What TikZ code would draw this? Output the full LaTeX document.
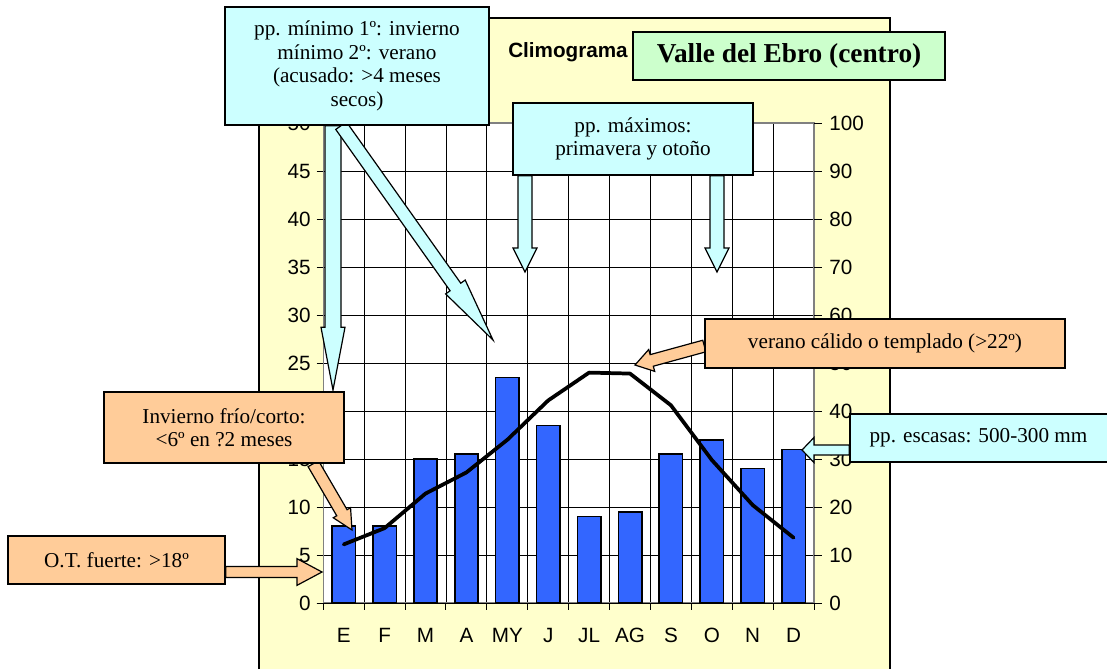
\documentclass[tikz,border=0pt]{standalone}
\usepackage{fontspec}
\setmainfont{Liberation Serif}
\setsansfont{Liberation Sans}
\usetikzlibrary{calc}
\definecolor{panelyellow}{RGB}{255,255,204}
\definecolor{boxcyan}{RGB}{204,255,255}
\definecolor{boxorange}{RGB}{255,204,153}
\definecolor{boxgreen}{RGB}{204,255,204}
\definecolor{barblue}{RGB}{51,102,255}
\definecolor{framegrey}{RGB}{128,128,128}
\newcommand\boxfont{\fontsize{15.9}{17.6}\selectfont}
\newcommand\axisfont{\sffamily\fontsize{15.5}{18}\selectfont}
% block arrow: style, start, tip, shaft half width, head half width, head length
\newcommand\blockarrow[6]{%
  \draw[#1] ($(#2)!#4!90:(#3)$) -- ($(#3)!#6!(#2)!#4!90:(#3)$) -- ($(#3)!#6!(#2)!#5!90:(#3)$)
    -- (#3) -- ($(#3)!#6!(#2)!#5!-90:(#3)$) -- ($(#3)!#6!(#2)!#4!-90:(#3)$) -- ($(#2)!#4!-90:(#3)$) -- cycle;}
\pgfdeclarelayer{chart}
\pgfdeclarelayer{pointers}
\pgfsetlayers{chart,pointers,main}

\begin{document}
\begin{tikzpicture}[x=0.75pt,y=0.75pt,yscale=-1,xscale=1,
  callout/.style={draw=black, line width=1pt, align=center, inner sep=0pt, font=\boxfont},
  cyanbox/.style={callout, fill=boxcyan},
  orangebox/.style={callout, fill=boxorange},
  cyanarrow/.style={draw=black, line width=0.9pt, fill=boxcyan, line join=miter},
  orangearrow/.style={draw=black, line width=0.9pt, fill=boxorange, line join=miter},
  gridline/.style={black, line width=0.6pt},
  axisline/.style={black, line width=0.7pt},
  axislabel/.style={font=\axisfont, inner sep=0pt},
  bar/.style={draw=black, line width=1.2pt, fill=barblue},
  templine/.style={black, line width=2.8pt, line join=round, line cap=round}]
\useasboundingbox (0,0) rectangle (1107,669);

\begin{pgfonlayer}{chart}
\fill[white] (0,0) rectangle (1107,669);
%Shape: Rectangle [panel]
\fill[panelyellow] (259,18) rectangle (890,669);
\draw[line width=0.8pt] (259,669) -- (259,18) -- (890,18) -- (890,669);
%Shape: Rectangle [plot area]
\fill[white] (323.2,123) rectangle (814,603);
%Straight Lines [grid]
\foreach \k in {1,...,11} \draw[gridline] ({323.2+40.9*\k},123) -- ({323.2+40.9*\k},603);
\foreach \j in {1,...,9} \draw[gridline] (323.2,{603-48*\j}) -- (814,{603-48*\j});
\draw[framegrey, line width=1pt] (323.2,123) rectangle (814,603);
%Axes and ticks
\foreach \v [count=\j from 0] in {0,5,...,50} {
  \draw[axisline] (316.5,{603-48*\j}) -- (323.2,{603-48*\j});
  \node[axislabel, anchor=east] (tl\j) at (311,{603-48*\j}) {\v};
}
\foreach \v [count=\j from 0] in {0,10,...,100} {
  \draw[axisline] (814,{603-48*\j}) -- (821.5,{603-48*\j});
  \node[axislabel, anchor=west] (pr\j) at (829,{603-48*\j}) {\v};
}
\foreach \k in {0,...,12} \draw[axisline] ({323.2+40.9*\k},603) -- ({323.2+40.9*\k},609.5);
\foreach \m [count=\i from 0] in {E,F,M,A,MY,J,JL,AG,S,O,N,D}
  \node[axislabel] (mes\i) at ({343.7+40.9*\i},635) {\m};
%Bars: precipitation
\foreach \p [count=\i from 0] in {16,16,30,31,47,37,18,19,31,34,28,32}
  \draw[bar] ({332+40.9*\i},603) rectangle ({355.4+40.9*\i},{603-4.8*\p});
%Curve Lines: temperature
\draw[templine] (343.7,544.4) \foreach \t [count=\i] in {7.8,11.4,13.6,17,21.1,24,23.9,20.6,14.9,10.2,6.8}
  { -- ({343.7+40.9*\i},{603-9.6*\t}) };
\draw[axisline] (316.5,603) -- (821.5,603);
%Title
\node[font=\sffamily\bfseries\fontsize{15.5}{18}\selectfont, anchor=east, inner sep=0pt] (climo) at (628,52) {Climograma};
\end{pgfonlayer}

%Callout boxes
\node[callout, fill=boxgreen, minimum width=234pt, minimum height=36pt,
  font=\bfseries\fontsize{20.5}{24}\selectfont] (titlebox) at (789,56) {Valle del Ebro (centro)};
\node[cyanbox, minimum width=198pt, minimum height=88.5pt] (minbox) at (357,66)
  {pp. mínimo 1º: invierno\\mínimo 2º: verano\\(acusado: >4 meses\\secos)};
\node[cyanbox, minimum width=180pt, minimum height=54pt] (maxbox) at (633,139)
  {pp. máximos:\\primavera y otoño};
\node[orangebox, minimum width=270pt, minimum height=36.75pt] (veranobox) at (885,343.5)
  {verano cálido o templado (>22º)};
\node[cyanbox, minimum width=193pt, minimum height=36pt] (escbox) at (978.5,438)
  {pp. escasas: 500-300 mm};
\node[orangebox, minimum width=180pt, minimum height=53.25pt] (invbox) at (224,427.5)
  {Invierno frío/corto:\\<6º en ?2 meses};
\node[orangebox, minimum width=162.75pt, minimum height=36pt] (otbox) at (116.5,560)
  {O.T. fuerte: >18º};

%Arrow tips
\coordinate (tipEne) at (333,390);
\coordinate (tipMay) at (493,340);
\coordinate (tipPri) at (525,272);
\coordinate (tipOto) at (717,272);
\coordinate (tipVer) at (635,365);
\coordinate (tipEsc) at (802,450);
\coordinate (tipInv) at (352,530);
\coordinate (tipOT) at (322,572);
%Arrow starts
\coordinate (minS) at (minbox.south -| tipEne);
\coordinate (minD) at ($(minbox.south west)!0.44!(minbox.south east)$);
\coordinate (priS) at (maxbox.south -| tipPri);
\coordinate (otoS) at (maxbox.south -| tipOto);
\coordinate (verS) at ($(veranobox.south west)!0.45!(veranobox.north west)$);
\coordinate (escS) at (escbox.west |- tipEsc);
\coordinate (invS) at ($(invbox.south west)!0.87!(invbox.south east)$);
\coordinate (otS) at (otbox.east |- tipOT);

\begin{pgfonlayer}{pointers}
\blockarrow{cyanarrow}{minS}{tipEne}{6pt}{9pt}{47pt}
\blockarrow{cyanarrow}{minD}{tipMay}{4.9pt}{9pt}{48.75pt}
\blockarrow{cyanarrow}{priS}{tipPri}{5.25pt}{9pt}{18pt}
\blockarrow{cyanarrow}{otoS}{tipOto}{5.25pt}{9pt}{18pt}
\blockarrow{orangearrow}{verS}{tipVer}{4.5pt}{8.5pt}{13pt}
\blockarrow{cyanarrow}{escS}{tipEsc}{3.75pt}{9.4pt}{9pt}
\blockarrow{orangearrow}{invS}{tipInv}{4.5pt}{7.5pt}{15pt}
\blockarrow{orangearrow}{otS}{tipOT}{4.1pt}{10pt}{18.75pt}
\end{pgfonlayer}
\end{tikzpicture}
\end{document}
